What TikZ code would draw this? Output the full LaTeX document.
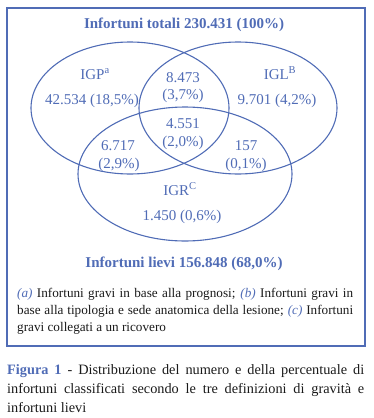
\documentclass[tikz,border=0pt]{standalone}
\usepackage{fontspec}
\setmainfont{Liberation Serif}
\definecolor{fblue}{RGB}{80,108,182}
\definecolor{ftext}{RGB}{25,25,25}
\begin{document}
\begin{tikzpicture}[x=1pt,y=-1pt,
  lab/.style={anchor=base,inner sep=0pt,text=fblue,font=\fontsize{15}{18}\selectfont},
  ttl/.style={anchor=base,inner sep=0pt,text=fblue,font=\fontsize{15}{18}\selectfont\bfseries},
  venn/.style={draw=fblue,line width=1.1pt},
  foot/.style={anchor=base west,inner sep=0pt,text=ftext,font=\fontsize{13.2}{17}\selectfont},
  capt/.style={anchor=base west,inner sep=0pt,text=ftext,font=\fontsize{14.3}{19}\selectfont}]
\useasboundingbox (0,0) rectangle (373,418);
\draw[fblue,line width=2pt] (7,8) rectangle (365,346);
% Venn ellipses
\draw[venn] (130,108) ellipse [x radius=99, y radius=66];
\draw[venn] (238,108) ellipse [x radius=99, y radius=66];
\draw[venn] (185,174) ellipse [x radius=107, y radius=67];
% titles
\node[ttl] (tot) at (184,28) {Infortuni totali 230.431 (100\%)};
\node[ttl] (lie) at (184,267) {Infortuni lievi 156.848 (68,0\%)};
% labels
\node[lab] (igp) at (95,79) {IGP\textsuperscript{a}};
\node[lab] (igpn) at (92,104) {42.534 (18,5\%)};
\node[lab] (igl) at (280,79) {IGL\textsuperscript{B}};
\node[lab] (igln) at (277,104) {9.701 (4,2\%)};
\node[lab] (pl1) at (183,82) {8.473};
\node[lab] (pl2) at (183,99) {(3,7\%)};
\node[lab] (all1) at (183,128) {4.551};
\node[lab] (all2) at (183,146) {(2,0\%)};
\node[lab] (pr1) at (118,150) {6.717};
\node[lab] (pr2) at (119,168) {(2,9\%)};
\node[lab] (lr1) at (246,150) {157};
\node[lab] (lr2) at (246,168) {(0,1\%)};
\node[lab] (igr) at (180,195) {IGR\textsuperscript{C}};
\node[lab] (igrn) at (182,220) {1.450 (0,6\%)};
% footnote
\node[foot] (f1) at (17,297) {\makebox[336pt][s]{{\color{fblue}\itshape(a)} Infortuni gravi in base alla prognosi; {\color{fblue}\itshape(b)} Infortuni gravi in}};
\node[foot] (f2) at (17,314) {\makebox[336pt][s]{base alla tipologia e sede anatomica della lesione; {\color{fblue}\itshape(c)} Infortuni}};
\node[foot] (f3) at (17,331) {gravi collegati a un ricovero};
% caption
\node[capt] (c1) at (7,374) {\makebox[357pt][s]{{\color{fblue}\bfseries Figura 1} - Distribuzione del numero e della percentuale di}};
\node[capt] (c2) at (7,393) {\makebox[357pt][s]{infortuni classificati secondo le tre definizioni di gravità e}};
\node[capt] (c3) at (7,412) {infortuni lievi};
\end{tikzpicture}
\end{document}
